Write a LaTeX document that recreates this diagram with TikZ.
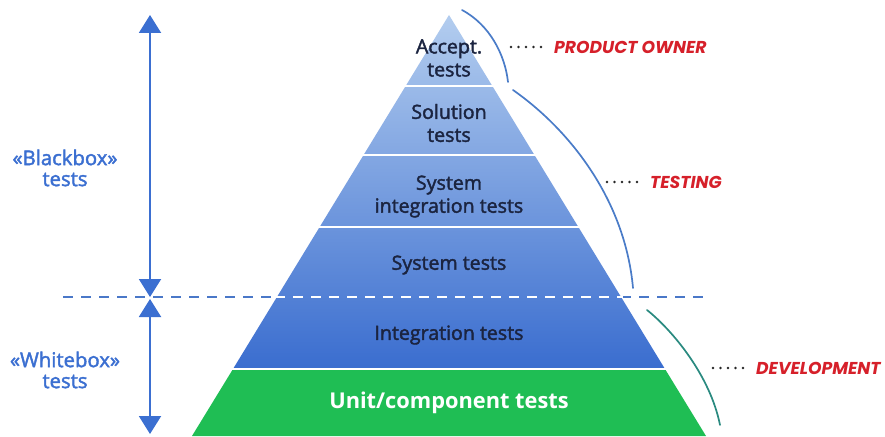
\documentclass[tikz,border=0pt]{standalone}
\usepackage{fontspec}
\setmainfont{Open Sans}
\newfontfamily\semib{Open Sans}[FakeBold=2]
\newfontfamily\rolefont{Poppins}
\usetikzlibrary{arrows.meta}
\definecolor{pyrtop}{HTML}{B3CDEF}
\definecolor{pyrbot}{HTML}{3A6DCF}
\definecolor{unitgreen}{HTML}{1FBE54}
\definecolor{labelnavy}{HTML}{1B2440}
\definecolor{sideblue}{HTML}{3B6FD1}
\definecolor{dashblue}{HTML}{4A78C8}
\definecolor{rolered}{HTML}{D6202A}
\definecolor{arcblue}{HTML}{4A7CC8}
\definecolor{arcteal}{HTML}{2A8A80}
\tikzset{
  layertext/.style={align=center, text=labelnavy, font=\semib\fontsize{19.6}{23}\selectfont, inner sep=0pt},
  unittext/.style={align=center, text=white, font=\fontsize{21.8}{24}\selectfont\bfseries, inner sep=0pt},
  sidetext/.style={align=center, text=sideblue, font=\semib\fontsize{20.3}{21}\selectfont, inner sep=0pt},
  roletext/.style={anchor=west, text=rolered, font=\fontsize{17.2}{20}\selectfont\rolefont\bfseries\itshape, inner sep=0pt},
  leader/.style={line width=2.6pt, line cap=round, dash pattern=on 0pt off 7.5pt, black!85},
  dimarrow/.style={draw=sideblue, line width=2pt, {Triangle[width=22pt,length=18pt]}-{Triangle[width=22pt,length=18pt]}, sideblue},
  sepline/.style={white, line width=2pt},
  arcline/.style={line width=1.7pt, line cap=round},
}
\begin{document}
\begin{tikzpicture}[x=1pt,y=-1pt]
\useasboundingbox[fill=white] (0,0) rectangle (885,436);
% blue dashed separator (outside)
\coordinate (dl) at (63,297);
\coordinate (dr) at (706,297);
\draw[dashblue, line width=2pt, dash pattern=on 10pt off 8pt] (dl) -- (dr);
% pyramid blue part
\shade[top color=pyrtop, bottom color=pyrbot] (449,15) -- (665,369) -- (233,369) -- cycle;
% green base
\fill[unitgreen] (233,369) -- (665,369) -- (706,436) -- (192,436) -- cycle;
% separators
\draw[sepline] (400,86) -- (498,86);
\draw[sepline] (360,155) -- (540,155);
\draw[sepline] (315,227) -- (583,227);
\draw[white, line width=2pt, dash pattern=on 10pt off 8pt] (275,297) -- (623,297);
\draw[sepline] (228,369) -- (670,369);
% layer labels
\node[layertext] (acc) at (449,58) {Accept.\\tests};
\node[layertext] (sol) at (449,123) {Solution\\tests};
\node[layertext] (sit) at (449,196.5) {System\\integration tests};
\node[layertext] (sys) at (449,265) {System tests};
\node[layertext] (int) at (449,335) {Integration tests};
\node[unittext] (unit) at (449,403) {Unit/component tests};
% side labels and arrows
\node[sidetext] (bb) at (65,168) {«Blackbox»\\tests};
\node[sidetext] (wb) at (65,370) {«Whitebox»\\tests};
\coordinate (bt) at (150,15);
\coordinate (bm) at (150,297);
\coordinate (wt) at (150,299);
\coordinate (wbot) at (150,434);
\draw[dimarrow] (bt) -- (bm);
\draw[dimarrow] (wt) -- (wbot);
% arcs
\coordinate (a1s) at (462,10); \coordinate (a1e) at (508,82);
\coordinate (a2s) at (513,90); \coordinate (a2e) at (633,288);
\coordinate (a3s) at (647,310); \coordinate (a3e) at (720,425);
\draw[arcline, arcblue] (a1s) .. controls (490,25) and (505,55) .. (a1e);
\draw[arcline, arcblue] (a2s) .. controls (570,130) and (625,200) .. (a2e);
\draw[arcline, arcteal] (a3s) .. controls (672,330) and (710,375) .. (a3e);
% role labels
\node[roletext] (po) at (554,47) {PRODUCT OWNER};
\node[roletext] (te) at (650,182) {TESTING};
\node[roletext] (de) at (756,368) {DEVELOPMENT};
\draw[leader] ([xshift=-43pt]po.west) -- ([xshift=-12.6pt]po.west);
\draw[leader] ([xshift=-43pt]te.west) -- ([xshift=-12.6pt]te.west);
\draw[leader] ([xshift=-43pt]de.west) -- ([xshift=-12.6pt]de.west);
\end{tikzpicture}
\end{document}
